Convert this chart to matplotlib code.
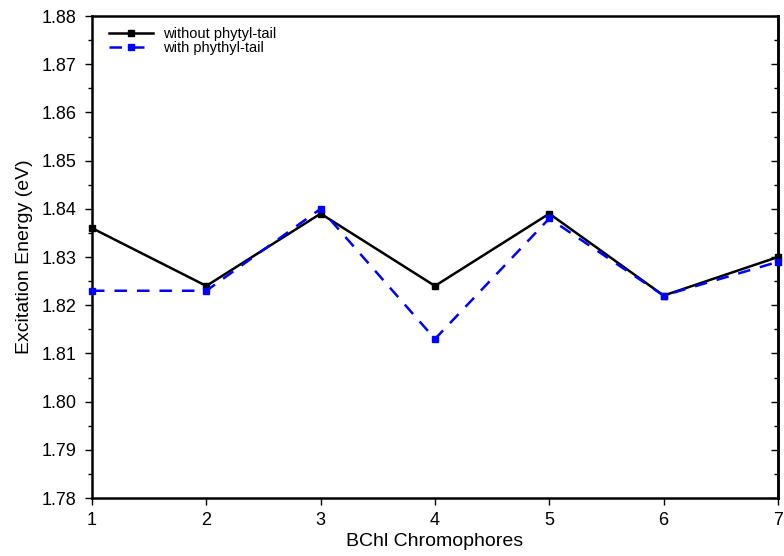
import matplotlib
matplotlib.use("Agg")
import matplotlib.pyplot as plt
from matplotlib.ticker import MultipleLocator

plt.rcParams['font.family'] = ['Liberation Sans', 'DejaVu Sans']

chromophores = [1, 2, 3, 4, 5, 6, 7]
without_tail = [1.836, 1.824, 1.839, 1.824, 1.839, 1.822, 1.830]
with_tail = [1.823, 1.823, 1.840, 1.813, 1.838, 1.822, 1.829]

fig = plt.figure(figsize=(7.84, 5.56), dpi=100)
ax = fig.add_axes([0.1173, 0.1043, 0.8750, 0.8669])

ax.plot(chromophores, without_tail, color='black', lw=1.8, marker='s', ms=5,
        label='without phytyl-tail', clip_on=False, zorder=3)
ax.plot(chromophores, with_tail, color='blue', lw=1.8, ls=(0, (5, 4)), marker='s', ms=5,
        label='with phythyl-tail', clip_on=False, zorder=4)

ax.set_xlim(1, 7)
ax.set_ylim(1.78, 1.88)
ax.yaxis.set_major_locator(MultipleLocator(0.01))
ax.yaxis.set_minor_locator(MultipleLocator(0.005))
ax.xaxis.set_major_locator(MultipleLocator(1))
ax.yaxis.set_major_formatter(plt.FormatStrFormatter('%.2f'))

for s in ax.spines.values():
    s.set_linewidth(1.8)

ax.tick_params(axis='both', which='both', labelsize=13, width=1, direction='out')
ax.tick_params(axis='both', which='major', length=5)
ax.tick_params(axis='y', which='minor', length=3)
ax.tick_params(axis='y', which='major', pad=6)
ax.tick_params(axis='x', which='major', pad=5)
ax.tick_params(axis='x', which='both', top=False)

# inward ticks along the right spine
ry = ax.secondary_yaxis('right')
ry.yaxis.set_major_locator(MultipleLocator(0.01))
ry.yaxis.set_minor_locator(MultipleLocator(0.005))
ry.tick_params(which='both', direction='in', labelright=False, width=1)
ry.tick_params(which='major', length=5)
ry.tick_params(which='minor', length=3)
ry.spines['right'].set_linewidth(1.8)

ax.set_xlabel('BChl Chromophores', fontsize=14, labelpad=3)
ax.set_ylabel('Excitation Energy (eV)', fontsize=14, labelpad=6)

ax.legend(loc='upper left', frameon=False, fontsize=10.5, handlelength=3.0,
          handletextpad=0.75, labelspacing=0.0, borderaxespad=0.0,
          bbox_to_anchor=(0.016, 0.99))

fig.savefig('out.png', dpi=100)
